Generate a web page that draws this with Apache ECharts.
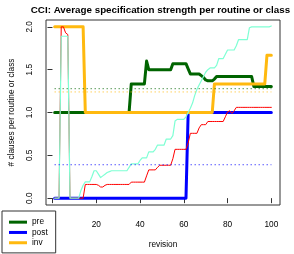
<!DOCTYPE html>
<html><head><meta charset="utf-8">
<script src="https://cdn.jsdelivr.net/npm/echarts@6/dist/echarts.min.js"></script>
<style>html,body{margin:0;padding:0;background:#fff}#c{width:294px;height:254px}</style>
</head><body><div id="c"></div>
<script>
const revisions = [1,2,3,4,5,6,7,8,9,10,11,12,13,14,15,16,17,18,19,20,21,22,23,24,25,26,27,28,29,30,31,32,33,34,35,36,37,38,39,40,41,42,43,44,45,46,47,48,49,50,51,52,53,54,55,56,57,58,59,60,61,62,63,64,65,66,67,68,69,70,71,72,73,74,75,76,77,78,79,80,81,82,83,84,85,86,87,88,89,90,91,92,93,94,95,96,97,98,99,100];
const pre = [1,1,1,1,1,1,1,1,1,1,1,1,1,1,1,1,1,1,1,1,1,1,1,1,1,1,1,1,1,1,1,1,1,1,1,
  1.333,1.333,1.333,1.333,1.333,1.333,1.333,1.6,
  1.5,1.5,1.5,1.5,1.5,1.5,1.5,1.5,1.5,1.5,1.5,
  1.57,1.57,1.57,1.57,1.57,1.57,1.57,1.51,
  1.45,1.45,1.45,1.45,1.45,1.43,1.41,1.38,1.37,1.37,1.37,1.39,
  1.42,1.42,1.42,1.42,1.42,1.42,1.42,1.42,1.42,1.42,1.42,1.42,1.42,1.42,1.42,1.42,1.42,
  1.305,1.305,1.305,1.305,1.305,1.305,1.305,1.305,1.305];
const post = [0,0,0,0,0,0,0,0,0,0,0,0,0,0,0,0,0,0,0,0,0,0,0,0,0,0,0,0,0,0,0,0,0,0,0,0,0,0,0,0,0,0,0,0,0,0,0,0,0,0,0,0,0,0,0,0,0,0,0,0,0,
  1,1,1,1,1,1,1,1,1,1,1,1,1,1,1,1,1,1,1,1,1,1,1,1,1,1,1,1,1,1,1,1,1,1,1,1,1,1,1];
const inv = [2,2,2,2,2,2,2,2,2,2,2,2,2,2,
  1,1,1,1,1,1,1,1,1,1,1,1,1,1,1,1,1,1,1,1,1,1,1,1,1,1,1,1,1,1,1,1,1,1,1,1,1,1,1,1,1,1,1,1,1,1,1,1,1,1,1,1,1,1,1,1,1,1,1,
  1.333,1.333,1.333,1.333,1.333,1.333,1.333,1.333,1.333,1.333,1.333,1.333,1.333,1.333,1.333,1.333,1.333,1.333,1.333,1.333,1.333,1.333,1.333,1.333,
  1.667,1.667,1.667];
const redLine = [0,0,0,2,2,1.93,1.91,0,0,0,0,0,0,0,
  0.16,0.16,0.16,0.16,0.16,0.16,0.15,0.13,0.13,0.15,
  0.16,0.16,0.16,0.16,0.16,0.16,0.16,0.16,0.16,0.16,0.16,
  0.187,0.187,0.187,0.187,0.187,0.187,0.187,0.26,0.33,0.33,0.33,0.33,0.36,
  0.384,0.384,0.384,0.384,0.384,0.384,0.46,0.57,0.57,0.57,0.57,0.57,0.57,0.645,
  0.757,0.757,0.757,0.757,0.82,0.858,0.858,0.858,
  0.895,0.895,0.895,0.895,0.895,0.895,0.895,0.895,0.95,1.007,1.02,0.99,1.02,
  1.06,1.06,1.06,1.06,1.06,1.06,1.06,1.06,1.06,1.06,1.06,1.06,1.06,1.06,1.06,1.06,1.06];
const aquaLine = [0,0,0,1.89,1.89,1.89,1.89,0,0,0,0,0,0.09,0.15,0.19,0.19,0.19,0.25,0.32,0.32,
  0.28,0.24,0.26,0.28,0.30,0.31,0.32,0.32,0.32,0.32,0.32,0.32,0.32,0.32,0.36,
  0.40,0.40,0.40,0.40,0.44,0.47,0.47,0.47,0.54,0.54,0.54,0.57,0.62,0.62,0.62,0.62,
  0.69,0.69,0.69,0.73,0.9,0.92,0.92,0.92,0.92,0.95,1.0,1.05,1.11,1.2,1.27,1.32,1.37,1.42,1.47,1.5,
  1.52,1.52,1.52,1.55,1.63,1.63,1.63,1.68,1.73,1.73,1.73,1.73,1.78,1.85,1.85,1.85,1.85,1.85,1.99,
  2.0,2.0,2.0,2.0,2.0,2.0,2.0,2.0,2.0,2.01];
const avgRevisions = [1, 100];
const avgPre = [1.278, 1.278];
const avgPost = [0.39, 0.39];
const avgInv = [1.24, 1.24];
const xTicks = [0, 20, 40, 60, 80, 100];
const xLabels = [20, 40, 60, 80, 100];
const yTicks = [0, 0.5, 1, 1.5, 2];

const zip = (xs, ys) => xs.map((x, i) => [x, ys[i]]);
const FONT = 'Liberation Sans';
const chart = echarts.init(document.getElementById('c'), null, {renderer: 'canvas'});
function solid(name, ys, color, width, z) {
  return {name, type: 'line', data: zip(revisions, ys), symbol: 'none', color,
    lineStyle: {color, width, cap: 'round', join: 'round'}, z, silent: true};
}
function dotted(name, ys, color) {
  return {name, type: 'line', data: zip(avgRevisions, ys), symbol: 'none', color,
    lineStyle: {color, width: 1, type: [1, 3]}, z: 6, silent: true};
}
chart.setOption({
  animation: false,
  backgroundColor: '#fff',
  textStyle: {fontFamily: FONT},
  graphic: [{type: 'text', left: 160.3 - 129.5, top: 5, z: 20,
    style: {text: 'CCI: Average specification strength per routine or class', font: 'bold 9.8px "Liberation Sans"', fill: '#000'}}],
  grid: {show: true, left: 40.5, right: 14, top: 20, bottom: 41, borderColor: '#333', borderWidth: 1, backgroundColor: 'transparent'},
  xAxis: {type: 'value', min: -2.96, max: 103.96,
    axisLine: {show: false}, splitLine: {show: false},
    axisTick: {show: true, customValues: xTicks, length: 5, lineStyle: {color: '#333'}},
    axisLabel: {customValues: xLabels, margin: 16, fontSize: 8.3, color: '#000', fontFamily: FONT},
    name: 'revision', nameLocation: 'middle', nameGap: 36,
    nameTextStyle: {fontSize: 8.3, color: '#000', fontFamily: FONT}},
  yAxis: {type: 'value', min: -0.08, max: 2.08,
    axisLine: {show: false}, splitLine: {show: false},
    axisTick: {show: true, customValues: yTicks, length: 5, lineStyle: {color: '#333'}},
    axisLabel: {customValues: yTicks, rotate: 90, margin: 12, fontSize: 8.3, color: '#000', fontFamily: FONT,
      formatter: v => v.toFixed(1)},
    name: '# clauses per routine or class', nameLocation: 'middle', nameGap: 30,
    nameTextStyle: {fontSize: 8.3, color: '#000', fontFamily: FONT}},
  legend: {data: ['pre', 'post', 'inv'], orient: 'vertical', left: 2, top: 211,
    icon: 'rect', itemWidth: 18, itemHeight: 3, itemGap: 0,
    padding: [6, 8, 5, 7], backgroundColor: '#fff', borderColor: '#333', borderWidth: 1,
    textStyle: {fontSize: 8.3, lineHeight: 10.3, color: '#000', fontFamily: FONT}, z: 10},
  series: [
    solid('pre', pre, '#006400', 3, 2),
    solid('post', post, '#0000FF', 3, 3),
    solid('inv', inv, '#FFB90F', 3, 4),
    solid('red', redLine, '#FF0000', 1, 5),
    solid('aquamarine', aquaLine, '#7FFFD4', 1.2, 5),
    dotted('pre mean', avgPre, '#006400'),
    dotted('post mean', avgPost, '#0000FF'),
    dotted('inv mean', avgInv, '#FFB90F')
  ]
});
</script></body></html>
